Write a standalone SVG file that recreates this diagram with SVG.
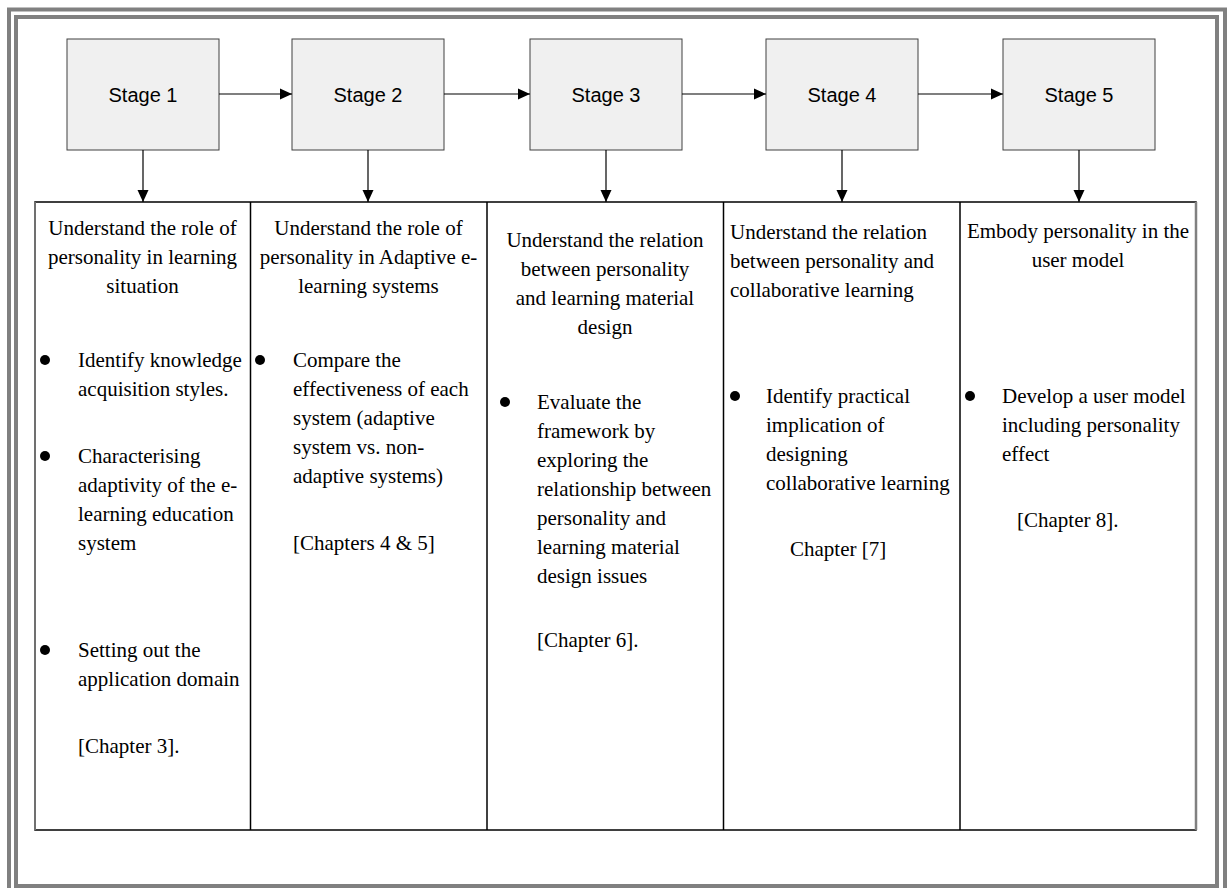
<svg xmlns="http://www.w3.org/2000/svg" width="1231" height="888" viewBox="0 0 1231 888">
  <style>
    .frame { fill: none; stroke: #808080; stroke-width: 4; }
    .stage rect { fill: #f0f0f0; stroke: #404040; stroke-width: 1; }
    .stage text { font-family: "Liberation Sans", Arial, sans-serif; font-size: 20px; fill: #000; text-anchor: middle; }
    .col text { font-family: "Liberation Serif", "Times New Roman", serif; font-size: 21px; fill: #000; }
    .col .c { text-anchor: middle; }
    .dot { fill: #000; }
    .conn line { stroke: #000; stroke-width: 1.2; }
    .grid { fill: none; stroke: #000; stroke-width: 1.5; }
  </style>
  <defs>
    <marker id="arrow" viewBox="0 0 12 12" refX="12" refY="6" markerWidth="12" markerHeight="12" markerUnits="userSpaceOnUse" orient="auto">
      <path d="M0,0.5 L12,6 L0,11.5 z" fill="#000"/>
    </marker>
  </defs>

  <rect width="1231" height="888" fill="#ffffff"/>

  <!-- double page frame -->
  <rect class="frame" x="9" y="9.5" width="1216" height="890"/>
  <rect class="frame" x="16" y="17" width="1201" height="869"/>

  <!-- stage boxes -->
  <g id="stage1" class="stage"><rect x="67" y="39" width="152" height="111"/><text x="143" y="102">Stage 1</text></g>
  <g id="stage2" class="stage"><rect x="292" y="39" width="152" height="111"/><text x="368" y="102">Stage 2</text></g>
  <g id="stage3" class="stage"><rect x="530" y="39" width="152" height="111"/><text x="606" y="102">Stage 3</text></g>
  <g id="stage4" class="stage"><rect x="766" y="39" width="152" height="111"/><text x="842" y="102">Stage 4</text></g>
  <g id="stage5" class="stage"><rect x="1003" y="39" width="152" height="111"/><text x="1079" y="102">Stage 5</text></g>

  <!-- connectors -->
  <g id="connectors" class="conn">
    <line x1="219" y1="94" x2="292" y2="94" marker-end="url(#arrow)"/>
    <line x1="444" y1="94" x2="530" y2="94" marker-end="url(#arrow)"/>
    <line x1="682" y1="94" x2="766" y2="94" marker-end="url(#arrow)"/>
    <line x1="918" y1="94" x2="1003" y2="94" marker-end="url(#arrow)"/>
    <line x1="143" y1="150" x2="143" y2="202" marker-end="url(#arrow)"/>
    <line x1="368" y1="150" x2="368" y2="202" marker-end="url(#arrow)"/>
    <line x1="606" y1="150" x2="606" y2="202" marker-end="url(#arrow)"/>
    <line x1="842" y1="150" x2="842" y2="202" marker-end="url(#arrow)"/>
    <line x1="1079" y1="150" x2="1079" y2="202" marker-end="url(#arrow)"/>
  </g>

  <!-- table of stage descriptions -->
  <g id="table">
    <rect class="grid" x="35" y="202" width="1161" height="628"/>
    <line class="grid" x1="250.5" y1="202" x2="250.5" y2="830"/>
    <line class="grid" x1="487" y1="202" x2="487" y2="830"/>
    <line class="grid" x1="723.5" y1="202" x2="723.5" y2="830"/>
    <line class="grid" x1="960" y1="202" x2="960" y2="830"/>
    <line x1="35" y1="202" x2="35" y2="830" stroke="#707070" stroke-width="2"/>
    <line x1="1196" y1="202" x2="1196" y2="830" stroke="#808080" stroke-width="2.5"/>
  </g>

  <g id="col1" class="col">
    <text class="c" x="142.5" y="235">Understand the role of</text>
    <text class="c" x="142.5" y="264">personality in learning</text>
    <text class="c" x="142.5" y="293">situation</text>
    <circle class="dot" cx="45" cy="360" r="5"/>
    <text x="78" y="367">Identify knowledge</text>
    <text x="78" y="396">acquisition styles.</text>
    <circle class="dot" cx="45" cy="456" r="5"/>
    <text x="78" y="463">Characterising</text>
    <text x="78" y="492">adaptivity of the e-</text>
    <text x="78" y="521">learning education</text>
    <text x="78" y="550">system</text>
    <circle class="dot" cx="45" cy="650" r="5"/>
    <text x="78" y="657">Setting out the</text>
    <text x="78" y="686">application domain</text>
    <text x="78" y="753">[Chapter 3].</text>
  </g>

  <g id="col2" class="col">
    <text class="c" x="368.5" y="235">Understand the role of</text>
    <text class="c" x="368.5" y="264">personality in Adaptive e-</text>
    <text class="c" x="368.5" y="293">learning systems</text>
    <circle class="dot" cx="260" cy="360" r="5"/>
    <text x="293" y="367">Compare the</text>
    <text x="293" y="396">effectiveness of each</text>
    <text x="293" y="425">system (adaptive</text>
    <text x="293" y="454">system vs. non-</text>
    <text x="293" y="483">adaptive systems)</text>
    <text x="293" y="550">[Chapters 4 &amp; 5]</text>
  </g>

  <g id="col3" class="col">
    <text class="c" x="605" y="247">Understand the relation</text>
    <text class="c" x="605" y="276">between personality</text>
    <text class="c" x="605" y="305">and learning material</text>
    <text class="c" x="605" y="334">design</text>
    <circle class="dot" cx="505" cy="402" r="5"/>
    <text x="537" y="409">Evaluate the</text>
    <text x="537" y="438">framework by</text>
    <text x="537" y="467">exploring the</text>
    <text x="537" y="496">relationship between</text>
    <text x="537" y="525">personality and</text>
    <text x="537" y="554">learning material</text>
    <text x="537" y="583">design issues</text>
    <text x="537" y="647">[Chapter 6].</text>
  </g>

  <g id="col4" class="col">
    <text x="730" y="239">Understand the relation</text>
    <text x="730" y="268">between personality and</text>
    <text x="730" y="297">collaborative learning</text>
    <circle class="dot" cx="735" cy="396" r="5"/>
    <text x="766" y="403">Identify practical</text>
    <text x="766" y="432">implication of</text>
    <text x="766" y="461">designing</text>
    <text x="766" y="490">collaborative learning</text>
    <text x="790" y="556">Chapter [7]</text>
  </g>

  <g id="col5" class="col">
    <text class="c" x="1078" y="238">Embody personality in the</text>
    <text class="c" x="1078" y="267">user model</text>
    <circle class="dot" cx="970" cy="396" r="5"/>
    <text x="1002" y="403">Develop a user model</text>
    <text x="1002" y="432">including personality</text>
    <text x="1002" y="461">effect</text>
    <text x="1017" y="527">[Chapter 8].</text>
  </g>
</svg>
